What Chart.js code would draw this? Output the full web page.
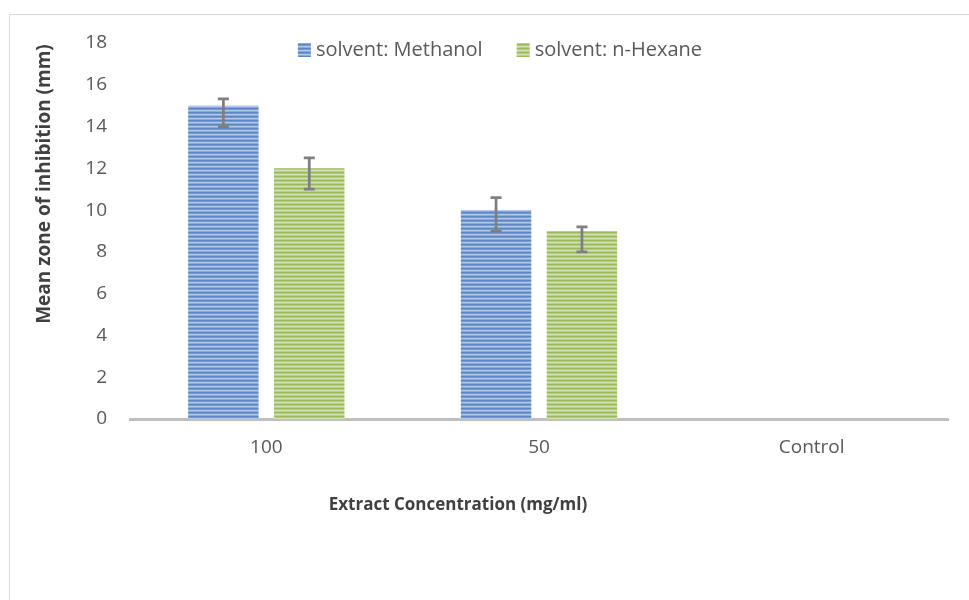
<!DOCTYPE html>
<html>
<head>
<meta charset="utf-8">
<script src="https://cdn.jsdelivr.net/npm/chart.js@4.4.0/dist/chart.umd.min.js"></script>
<style>
  html, body { margin: 0; padding: 0; background: #fff; }
  #wrap { width: 969px; height: 600px; }
</style>
</head>
<body>
<div id="wrap"><canvas id="chart" width="969" height="600"></canvas></div>
<script>
// Datos del gráfico
const categories = ['100', '50', 'Control'];
const seriesNames = ['solvent: Methanol', 'solvent: n-Hexane'];
const methanol = [15, 10, 0];
const hexane = [12, 9, 0];
const methanolErrPlus = [0.33, 0.6, 0];
const methanolErrMinus = [1, 1, 0];
const hexaneErrPlus = [0.5, 0.2, 0];
const hexaneErrMinus = [1, 1, 0];
const yTicks = [0, 2, 4, 6, 8, 10, 12, 14, 16, 18];
const xTitle = 'Extract Concentration (mg/ml)';
const yTitle = 'Mean zone of inhibition (mm)';

const FONT = '"Open Sans", "DejaVu Sans", sans-serif';
const ctx = document.getElementById('chart').getContext('2d');

// Relleno con rayas horizontales (como en Excel)
function stripes(colors) {
    const c = document.createElement('canvas');
    c.width = 1;
    c.height = colors.length;
    const g = c.getContext('2d');
    colors.forEach((col, i) => {
        g.fillStyle = col;
        g.fillRect(0, i, 1, 1);
    });
    return ctx.createPattern(c, 'repeat');
}

const bluePattern = stripes(['#5b86c3', '#7498cf', '#b2c8e8', '#8caad8']);
const greenPattern = stripes(['#9aba5a', '#b0ca7c', '#d4e3b6', '#b9d08b']);

const errors = [
    { plus: methanolErrPlus, minus: methanolErrMinus },
    { plus: hexaneErrPlus, minus: hexaneErrMinus }
];

const decorations = {
    id: 'decorations',
    beforeDraw(chart) {
        // Marco del gráfico (recortado a la derecha y abajo)
        const c = chart.ctx;
        c.save();
        c.strokeStyle = '#d9d9d9';
        c.lineWidth = 1;
        c.beginPath();
        c.moveTo(9.5, 600);
        c.lineTo(9.5, 14.5);
        c.lineTo(969, 14.5);
        c.stroke();
        c.restore();
    },
    afterDatasetsDraw(chart) {
        // Barras de error
        const c = chart.ctx;
        const y = chart.scales.y;
        c.save();
        c.strokeStyle = '#7f7f7f';
        c.lineWidth = 2.75;
        chart.data.datasets.forEach((ds, i) => {
            const meta = chart.getDatasetMeta(i);
            meta.data.forEach((bar, j) => {
                const v = ds.data[j];
                const up = errors[i].plus[j];
                const down = errors[i].minus[j];
                if (!up && !down) return;
                const yTop = y.getPixelForValue(v + up);
                const yBot = y.getPixelForValue(v - down);
                c.beginPath();
                c.moveTo(bar.x, yTop);
                c.lineTo(bar.x, yBot);
                c.moveTo(bar.x - 5.5, yTop);
                c.lineTo(bar.x + 5.5, yTop);
                c.moveTo(bar.x - 5.5, yBot);
                c.lineTo(bar.x + 5.5, yBot);
                c.stroke();
            });
        });
        c.restore();
    },
    afterDraw(chart) {
        const c = chart.ctx;
        c.save();

        // Leyenda
        c.font = '20px ' + FONT;
        c.textBaseline = 'middle';
        const box = 13, gap = 5, spacing = 34;
        const widths = chart.data.datasets.map((ds) => c.measureText(ds.label).width);
        const total = widths.reduce((a, w) => a + box + gap + w, 0) + spacing * (widths.length - 1);
        let x = 500 - total / 2;
        const ly = 50;
        chart.data.datasets.forEach((ds, i) => {
            c.fillStyle = ds.backgroundColor;
            c.fillRect(x, ly - 7, box, 14);
            c.fillStyle = '#595959';
            c.fillText(ds.label, x + box + gap, ly);
            x += box + gap + widths[i] + spacing;
        });

        // Títulos de los ejes
        c.fillStyle = '#404040';
        c.textAlign = 'center';
        c.font = 'bold 17px ' + FONT;
        c.fillText(xTitle, 458, 505);
        c.font = 'bold 19px ' + FONT;
        c.translate(45, 184);
        c.rotate(-Math.PI / 2);
        c.fillText(yTitle, 0, 0);
        c.restore();
    }
};

new Chart(ctx, {
    type: 'bar',
    data: {
        labels: categories,
        datasets: [
            {
                label: seriesNames[0],
                data: methanol,
                backgroundColor: bluePattern,
                borderWidth: 0
            },
            {
                label: seriesNames[1],
                data: hexane,
                backgroundColor: greenPattern,
                borderWidth: 0
            }
        ]
    },
    options: {
        responsive: false,
        animation: false,
        devicePixelRatio: 1,
        categoryPercentage: 0.63,
        barPercentage: 0.82,
        layout: {
            padding: { top: 43, right: 21, bottom: 0, left: 0 }
        },
        plugins: {
            legend: { display: false },
            tooltip: { enabled: false }
        },
        scales: {
            x: {
                grid: { display: false, drawTicks: false },
                border: { display: true, color: '#bfbfbf', width: 3 },
                ticks: {
                    color: '#595959',
                    font: { family: FONT, size: 19 },
                    padding: 17
                },
                afterFit: (scale) => { scale.height = 181; }
            },
            y: {
                min: yTicks[0],
                max: yTicks[yTicks.length - 1],
                grid: { display: false, drawTicks: false },
                border: { display: false },
                ticks: {
                    stepSize: yTicks[1] - yTicks[0],
                    color: '#595959',
                    font: { family: FONT, size: 19 },
                    padding: 23
                },
                afterFit: (scale) => { scale.width = 130; }
            }
        }
    },
    plugins: [decorations]
});
</script>
</body>
</html>
